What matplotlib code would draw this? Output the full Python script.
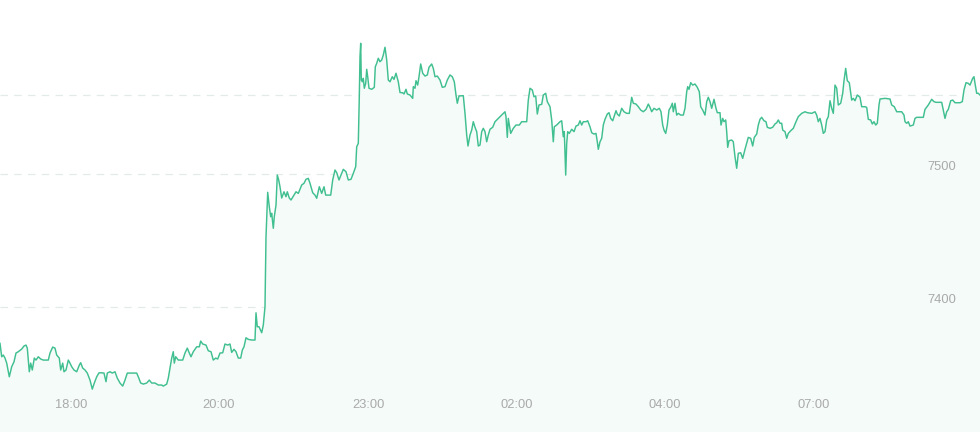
import matplotlib
matplotlib.use("Agg")
import matplotlib.pyplot as plt

# sample slot (position along the time axis) and price
slot = [0, 1.7, 3.3, 5, 6.7, 9.3, 11.7, 14, 16, 18.3, 21.7, 24, 26, 27.3, 29.3, 30.7, 32.3, 34.3, 36, 38.3,
        40.7, 43.3, 48.3, 50, 52.7, 55, 56.7, 59.3, 60.7, 62.7, 64, 66, 68.3, 70, 71.7, 74, 76.7, 79.3, 80.7, 82.7,
        85, 87.3, 90, 92.3, 94.3, 96.7, 99, 101.7, 104, 106, 107.3, 110, 112.3, 115, 117.3, 120, 122.7, 125, 127.3, 131.7,
        136.7, 138.3, 140.7, 143.3, 146.7, 149.3, 151.7, 155, 158.3, 161.7,
        163.3, 166.7, 168.3, 170, 171.7, 173.3, 174.3, 175.7, 178.3, 182.7, 185, 187.3, 189.3, 191, 193.3, 196.7, 199.3,
        200.7, 202.7, 206, 208.3, 211, 213.3, 215.7, 217.7, 220, 222.7, 225, 227.7, 230, 231.7, 234, 236, 238.3, 240.7,
        242.3, 244, 246, 248.3, 251.7, 255, 256, 257.3, 259, 261.7, 263.3, 265, 266, 267.7, 269.3, 270.7, 271.7, 273.3,
        274.3, 276, 277.3, 278.7,
        280, 281.7, 284, 286, 287.3, 289.3, 291, 294, 296, 298.3, 301.7, 304, 306, 308.3, 310, 312.7, 315, 316.7, 319.3,
        321.7, 324, 325.7, 330.7, 332.7, 335, 336.7, 339, 341, 343.3, 346, 348.3, 351, 353.3, 355.7, 356.7, 358.3, 359.3,
        360, 360.7, 361.3, 362.3, 363.3, 364.3, 365.7, 366.7, 367.7, 369, 371.7, 374.3, 375.3, 376.7, 378.3, 380, 381.7,
        383.3, 385, 386.7, 388.3, 390, 392.3, 394, 396, 398.3, 400,
        402.7, 404, 406, 407.3, 410, 412.7, 413.3, 415, 416, 417.7, 419, 420.7, 422.7, 425, 427.3, 429, 431.7, 433.3, 435,
        437.3, 440, 442.3, 445, 447.3, 450, 452.3, 454.3, 456, 457.3, 459, 463.3, 465, 466.7, 468, 470, 471.7, 473.3, 475,
        476.7, 478.3, 480, 481.7, 483.3, 485, 486.7, 488.3, 490, 492.7, 495, 498.3, 501.7, 505, 506, 507.3, 508.3, 510.7,
        513.3, 516, 519.3, 521.7, 526.7, 528.3, 530, 532.3, 534, 535.7, 537.3, 539, 541.7, 543.3, 545.7, 547.3, 550, 551.7,
        553.3, 554.3, 556.7, 560,
        561.7, 563.3, 564.3, 565.7, 566.7, 567.7, 569.3, 571.7, 574, 576, 578.3, 580, 581.7, 583.3, 586, 587.7, 590, 591.7,
        594, 596, 597.3, 598.3, 600, 601.7, 603.3, 605, 607.3, 609, 610.7, 612.7, 614.3, 616, 617.3, 619.3, 621.7, 624,
        626.7, 629.3, 631.7, 633.3, 636, 638.3, 640.7, 643.3, 646, 648.3, 650, 651.7, 654, 656.7, 659.3, 661, 662.7, 664,
        665.7, 667.3, 669, 671, 672.3, 673.3, 675, 676.7, 678.3, 680.7, 683.3, 685, 686.7, 687.7, 689, 690.7, 692.7, 695,
        697.3, 699.3, 700.7, 702.7, 705, 706.7, 708.3, 710, 711.7, 714, 716, 717.3, 720,
        721, 722.7, 724, 725.7, 726.7, 727.7, 729, 731.7, 733.3, 735, 736.7, 738.3, 740.7, 742.7, 745, 746.7, 748.3, 750.7,
        752.7, 754.3, 756.7, 758.3, 760, 761.7, 764, 766, 767.3, 770, 772.7, 775, 776.7, 778.3, 780, 781.7, 782.7, 785,
        786.7, 788.3, 790.7, 793.3, 796, 798.3, 801.7, 805, 807.3, 811.7, 815, 816.7, 818.3, 820, 821.7, 823.3, 825, 826.7,
        828.3, 830, 831.7, 833.3, 835, 836.7, 838.3, 840.7, 842.7, 844, 845.7, 847.3, 849.3, 851.7, 853.3, 855, 857.3, 860,
        861.7, 865, 866.7, 868.3, 870.7, 872.3, 874, 875.7, 877.3, 879, 880, 885, 890, 891.7, 894.3, 896.7, 901.7, 904,
        905, 906.7, 908.3, 910, 913.3, 915, 916.7, 923.3, 925, 928.3, 931.7, 934, 936, 941.7, 943.3, 945, 946.7, 948.3,
        950.7, 952.7, 955, 960, 962.3, 964, 966, 968.3, 970, 972.7, 974, 975, 976.7, 978.3, 980]

price = [7372.4, 7362.3, 7363.6, 7361.3, 7357.5, 7347.2, 7354.8, 7358.5, 7365.1, 7366.1, 7368.1, 7370.4, 7371.1, 7368.8,
         7351.0, 7357.5, 7352.3, 7361.3, 7359.8, 7362.3, 7360.6, 7359.8, 7359.8, 7365.1, 7369.6, 7368.8, 7363.6, 7361.3,
         7352.3, 7357.5, 7351.0, 7352.3, 7359.8, 7357.5, 7354.8, 7352.3, 7351.0, 7356.0, 7357.8, 7353.8, 7352.3, 7350.0,
         7344.7, 7337.9, 7342.5, 7347.2, 7350.2, 7350.2, 7350.0, 7343.5, 7350.0, 7351.0, 7350.0, 7351.0, 7346.2, 7342.5,
         7340.2, 7344.7, 7350.0, 7350.0, 7350.0, 7347.2, 7342.5, 7341.7, 7342.5, 7344.7, 7342.5, 7342.5, 7341.0, 7341.0,
         7340.2, 7341.7, 7346.2, 7353.8, 7361.3, 7366.1, 7357.5, 7362.3, 7359.8, 7359.8, 7365.1, 7368.8, 7365.1, 7362.3,
         7366.1, 7369.8, 7369.8, 7374.1, 7371.9, 7371.1, 7366.8, 7366.1, 7359.8, 7361.3, 7360.6, 7365.1, 7365.3, 7371.9,
         7371.1, 7371.9, 7365.6, 7367.9, 7366.1, 7361.3, 7361.3, 7367.3, 7369.8, 7376.6, 7375.4, 7374.9, 7374.9, 7395.4,
         7384.9, 7384.9, 7380.4, 7386.2, 7400.0, 7452.7, 7486.2, 7475.3, 7467.8, 7470.4, 7459.1, 7467.8, 7476.6, 7499.2,
         7495.5,
         7490.4, 7481.9, 7486.6, 7482.9, 7486.6, 7481.9, 7480.4, 7484.1, 7486.6, 7485.4, 7491.7, 7493.0, 7496.0, 7496.7,
         7493.0, 7485.9, 7484.1, 7481.7, 7490.4, 7485.4, 7490.4, 7484.1, 7484.1, 7495.5, 7503.0, 7501.0, 7495.5, 7499.2,
         7503.5, 7501.7, 7495.5, 7496.0, 7500.5, 7505.5, 7520.5, 7523.1, 7558.2, 7588.4, 7598.5, 7570.8, 7569.5, 7572.1,
         7564.6, 7568.3, 7578.9, 7573.3, 7564.6, 7563.8, 7565.3, 7580.8, 7583.4, 7587.2, 7584.6, 7585.9, 7589.7, 7595.5,
         7585.9, 7570.8, 7569.5, 7573.3, 7571.3, 7575.9, 7569.5, 7561.4,
         7561.2, 7560.3, 7563.8, 7560.3, 7559.5, 7557.0, 7565.8, 7564.6, 7570.3, 7567.0, 7573.3, 7582.9, 7575.9, 7573.8,
         7574.6, 7580.4, 7582.9, 7579.6, 7573.3, 7573.8, 7570.8, 7565.3, 7565.8, 7570.8, 7574.6, 7573.3, 7569.5, 7559.5,
         7553.3, 7558.8, 7559.0, 7545.7, 7529.4, 7521.1, 7529.4, 7533.1, 7539.4, 7535.2, 7531.9, 7521.1, 7521.8, 7531.9,
         7534.4, 7531.9, 7524.3, 7529.4, 7533.7, 7535.2, 7539.4, 7541.9, 7544.4, 7546.9, 7543.2, 7527.6, 7541.9, 7530.6,
         7534.4, 7536.9, 7536.9, 7539.4, 7539.4, 7555.7, 7564.6, 7563.3, 7558.2, 7558.8, 7545.2, 7552.0, 7552.5, 7559.5,
         7560.8, 7554.5, 7550.7, 7540.7, 7524.3, 7535.6, 7536.9, 7539.4,
         7540.1, 7528.1, 7531.9, 7499.2, 7523.1, 7531.9, 7530.6, 7533.7, 7531.9, 7536.1, 7536.9, 7540.1, 7536.9, 7539.4,
         7539.4, 7540.1, 7535.6, 7531.1, 7530.1, 7530.6, 7524.3, 7518.6, 7524.3, 7526.9, 7536.9, 7541.2, 7545.2, 7546.2,
         7541.9, 7540.1, 7543.7, 7547.7, 7545.2, 7543.7, 7549.5, 7546.9, 7545.7, 7545.7, 7557.8, 7553.3, 7552.7, 7550.7,
         7548.2, 7546.9, 7548.7, 7552.7, 7550.2, 7546.9, 7549.5, 7548.2, 7549.5, 7546.9, 7536.9, 7533.1, 7530.6, 7536.9,
         7548.2, 7550.7, 7553.3, 7546.9, 7553.3, 7544.4, 7545.7, 7544.4, 7544.4, 7549.5, 7562.0, 7565.8, 7563.8, 7568.8,
         7567.0, 7567.8, 7565.3, 7562.0, 7550.7, 7548.2, 7544.4, 7554.5, 7557.8, 7554.5, 7549.5, 7556.3, 7549.5, 7546.2,
         7546.2,
         7536.9, 7541.9, 7539.4, 7540.7, 7531.9, 7520.1, 7525.1, 7525.6, 7524.3, 7513.0, 7504.3, 7515.6, 7516.0, 7511.8,
         7518.6, 7523.1, 7527.6, 7526.9, 7521.1, 7527.6, 7530.1, 7536.9, 7541.2, 7542.7, 7540.1, 7539.4, 7535.2, 7534.4,
         7535.2, 7537.7, 7538.6, 7540.7, 7538.2, 7538.2, 7533.1, 7531.9, 7526.9, 7530.6, 7532.6, 7534.4, 7539.4, 7543.2,
         7545.7, 7546.9, 7546.2, 7545.7, 7546.9, 7544.4, 7539.4, 7541.9, 7536.9, 7530.6, 7531.9, 7540.7, 7543.2, 7555.2,
         7549.5, 7545.7, 7567.0, 7564.6, 7552.0, 7553.3, 7560.8, 7570.3, 7579.6, 7570.3, 7568.8, 7555.7, 7557.0, 7555.2,
         7559.5, 7557.8,
         7550.7, 7550.7, 7550.2, 7541.2, 7540.7, 7537.7, 7539.4, 7536.9, 7538.2, 7552.0, 7556.5, 7557.0, 7556.5, 7552.0,
         7550.7, 7546.9, 7546.9, 7544.4, 7539.4, 7538.2, 7539.4, 7536.1, 7536.9, 7541.9, 7542.7, 7542.7, 7548.7, 7552.0,
         7556.3, 7554.5, 7554.0, 7554.0, 7548.2, 7541.9, 7546.9, 7548.7, 7555.2, 7555.7, 7553.7, 7553.7, 7554.5, 7563.3,
         7568.8, 7568.3, 7567.0, 7572.1, 7573.3, 7568.3, 7560.8, 7560.8, 7559.5]

tick_slots = [71, 219, 368, 517, 665, 814]
tick_labels = ["18:00", "20:00", "23:00", "02:00", "04:00", "07:00"]
y_ticks = [7400, 7500]
ref_price = 7559.5

LINE = "#40bf90"
FILL = "#f4fbf8"
GRID = "#e3ebe8"
TEXT = "#aaaaaa"

fig = plt.figure(figsize=(9.8, 4.32), dpi=100)
ax = fig.add_axes([0, 0, 1, 1])
ymin, ymax = 7305.6, 7631.1
ax.set_xlim(0, 980)
ax.set_ylim(ymin, ymax)
ax.axis("off")

for v in y_ticks + [ref_price]:
    ax.axhline(v, color=GRID, lw=0.9, ls=(0, (6, 5)), zorder=1)

ax.fill_between(slot, price, ymin, color=FILL, lw=0, zorder=2)
ax.plot(slot, price, color=LINE, lw=1.05, zorder=3, solid_joinstyle="round")

for v in y_ticks:
    ax.annotate(str(v), xy=(956, v), xycoords="data", xytext=(0, 0.5), textcoords="offset pixels",
                ha="right", va="bottom", color=TEXT, fontsize=9.3, family="Liberation Sans", zorder=4)

for s, lab in zip(tick_slots, tick_labels):
    ax.annotate(lab, xy=(s, ymin), xycoords="data", xytext=(0, 26.5), textcoords="offset pixels",
                ha="center", va="center", color=TEXT, fontsize=9.3, family="Liberation Sans", zorder=4)

fig.savefig("out.png", dpi=100, facecolor="white")
